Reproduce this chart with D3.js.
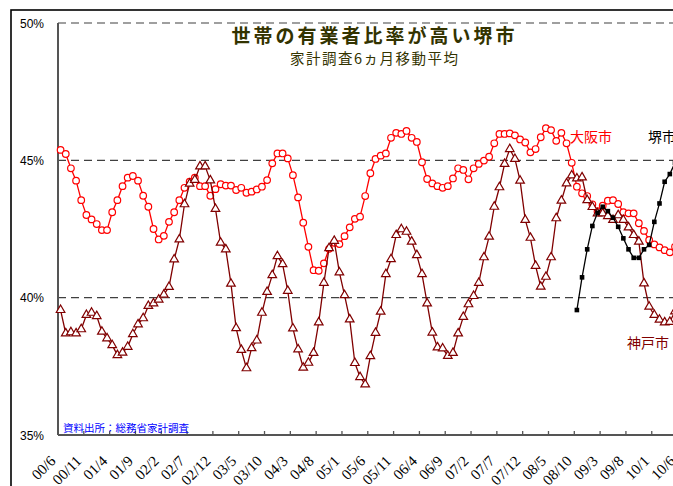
<!DOCTYPE html>
<html>
<head>
<meta charset="utf-8">
<script src="https://cdn.jsdelivr.net/npm/d3@7"></script>
<style>
  html, body { margin: 0; padding: 0; background: #fff; overflow: hidden; }
  svg { display: block; }
</style>
</head>
<body>
<div id="chart"></div>
<script>
// Monthly categories, June 2000 onward (6-month moving averages, %)
const startYear = 2000, startMonth = 6, monthCount = 121;

const osaka = [
  45.38, 45.23, 44.71, 44.26, 43.55, 43.01, 42.85, 42.68, 42.46, 42.46,
  43.11, 43.55, 44.06, 44.37, 44.43, 44.26, 43.71, 43.31, 42.50, 42.12,
  42.25, 42.76, 43.11, 43.55, 44.00, 44.22, 44.37, 44.06, 44.06, 43.71,
  43.95, 44.13, 44.08, 44.08, 43.92, 44.00, 43.82, 43.86, 43.94, 44.04,
  44.28, 44.89, 45.25, 45.25, 45.07, 44.46, 43.65, 42.73, 41.85, 41.00,
  40.98, 41.25, 41.78, 42.00, 41.95, 42.24, 42.56, 42.87, 42.95, 43.70,
  44.53, 45.05, 45.17, 45.25, 45.82, 46.00, 45.96, 46.07, 45.82, 45.67,
  44.93, 44.32, 44.16, 44.06, 44.00, 44.06, 44.34, 44.71, 44.65, 44.31,
  44.71, 44.87, 44.99, 45.13, 45.62, 45.96, 45.96, 45.98, 45.91, 45.76,
  45.65, 45.29, 45.41, 45.84, 46.17, 46.10, 45.71, 46.00, 45.62, 44.91,
  44.04, 43.80, 43.70, 43.40, 43.15, 43.35, 43.53, 43.55, 43.41, 43.11,
  43.07, 43.07, 42.71, 42.43, 42.10, 41.94, 41.83, 41.73, 41.65, 41.85,
  42.00
];

const kobe = [
  39.55, 38.70, 38.74, 38.70, 38.85, 39.37, 39.45, 39.33, 38.76, 38.52,
  38.27, 37.91, 38.00, 38.21, 38.67, 39.03, 39.25, 39.70, 39.79, 39.93,
  40.11, 40.39, 41.39, 42.12, 43.40, 44.15, 44.29, 44.78, 44.78, 44.27,
  43.23, 42.00, 41.76, 40.51, 38.89, 38.10, 37.43, 38.16, 38.44, 39.45,
  40.21, 40.82, 41.51, 41.22, 40.25, 38.88, 38.12, 37.45, 37.63, 37.99,
  39.10, 40.54, 41.80, 42.07, 40.92, 40.09, 39.21, 37.62, 37.11, 36.84,
  37.87, 38.72, 39.49, 40.86, 41.40, 42.28, 42.49, 42.40, 42.04, 41.55,
  40.86, 39.79, 38.73, 38.19, 38.15, 37.88, 37.99, 38.70, 39.30, 39.76,
  40.06, 40.54, 41.47, 42.22, 43.31, 44.02, 44.87, 45.41, 45.05, 44.26,
  42.83, 42.18, 41.16, 40.40, 40.76, 41.47, 42.89, 43.53, 44.16, 44.45,
  44.34, 44.38, 43.55, 43.30, 43.07, 43.07, 42.97, 42.83, 43.00, 42.83,
  42.56, 42.28, 42.04, 40.52, 39.67, 39.37, 39.20, 39.10, 39.12, 39.50,
  40.03
];

// Sakai series begins in October 2008 (category index 100)
const sakaiStart = 100;
const sakai = [
  39.55, 40.74, 41.76, 42.61, 43.09, 43.31, 43.15, 42.91, 42.58, 42.16,
  41.76, 41.45, 41.45, 41.76, 41.92, 42.76, 43.43, 44.22, 44.50, 44.91,
  45.30
];

const yTicks = [35, 40, 45, 50];
const tickEvery = 5;

const seriesNames = { osaka: "大阪市", kobe: "神戸市", sakai: "堺市" };
const titleText = "世帯の有業者比率が高い堺市";
const subtitleText = "家計調査6ヵ月移動平均";
const sourceText = "資料出所：総務省家計調査";

// category labels "YY/M"
const months = d3.range(monthCount).map(i => {
  const m0 = startMonth - 1 + i;
  const y = (startYear + Math.floor(m0 / 12)) % 100;
  const m = (m0 % 12) + 1;
  return String(y).padStart(2, "0") + "/" + m;
});

const W = 720, H = 520;
const svg = d3.select("#chart").append("svg")
  .attr("width", W).attr("height", H);

// outer chart frame
svg.append("rect")
  .attr("x", 11).attr("y", 10)
  .attr("width", W).attr("height", H)
  .attr("fill", "#fff").attr("stroke", "#000").attr("stroke-width", 1.6);

const plotLeft = 58, plotTop = 23, plotBottom = 435;
const step = 5.163;

const x = d3.scaleBand()
  .domain(months)
  .range([plotLeft, plotLeft + months.length * step])
  .paddingInner(0).paddingOuter(0);
const cx = i => x(months[i]) + x.bandwidth() / 2;

const y = d3.scaleLinear().domain([35, 50]).range([plotBottom, plotTop]);

// dashed gridlines
svg.append("g").selectAll("line")
  .data(yTicks.filter(v => v > 35))
  .join("line")
  .attr("x1", plotLeft).attr("x2", W)
  .attr("y1", d => y(d)).attr("y2", d => y(d))
  .attr("stroke", d => d === 50 ? "#808080" : "#404040")
  .attr("stroke-width", d => d === 50 ? 1.6 : 1.2)
  .attr("stroke-dasharray", "8,5");

// y axis labels
svg.append("g").selectAll("text")
  .data(yTicks)
  .join("text")
  .attr("x", 44)
  .attr("y", d => y(d) + 4.5)
  .attr("text-anchor", "end")
  .attr("font-family", "Liberation Sans, Arial, sans-serif")
  .attr("font-size", 12)
  .attr("fill", "#000")
  .text(d => d + "%");

// axis lines
svg.append("line")
  .attr("x1", plotLeft).attr("x2", plotLeft)
  .attr("y1", plotTop).attr("y2", plotBottom)
  .attr("stroke", "#555").attr("stroke-width", 2);

const xAxis = d3.axisBottom(x)
  .tickValues(months.filter((d, i) => i % tickEvery === 0))
  .tickSize(0).tickFormat("");
const gx = svg.append("g").attr("transform", `translate(0,${plotBottom})`).call(xAxis);
gx.select(".domain").remove();
gx.append("line")
  .attr("x1", plotLeft).attr("x2", W).attr("y1", 0).attr("y2", 0)
  .attr("stroke", "#555").attr("stroke-width", 2);

// tick marks at category boundaries, every 5 months
const tickIdx = d3.range(0, months.length, tickEvery);
gx.append("g").selectAll("line")
  .data(tickIdx)
  .join("line")
  .attr("x1", i => x(months[i])).attr("x2", i => x(months[i]))
  .attr("y1", -4).attr("y2", 0)
  .attr("stroke", "#555").attr("stroke-width", 1.3);

// rotated month labels
svg.append("g").selectAll("text")
  .data(tickIdx)
  .join("text")
  .attr("transform", i => `translate(${cx(i) - 4},${plotBottom + 27}) rotate(-45)`)
  .attr("text-anchor", "end")
  .attr("font-family", "Liberation Serif, Times New Roman, serif")
  .attr("font-size", 15)
  .attr("fill", "#000")
  .text(i => months[i]);

// series lines and markers
const line = d3.line().x(d => cx(d.i)).y(d => y(d.v));
const toPts = (arr, offset = 0) => arr.map((v, k) => ({ i: k + offset, v }));

const osakaPts = toPts(osaka);
const kobePts = toPts(kobe);
const sakaiPts = toPts(sakai, sakaiStart);

// Osaka: red, open circles
svg.append("path").datum(osakaPts).attr("d", line)
  .attr("fill", "none").attr("stroke", "#ff0000").attr("stroke-width", 1.3);
svg.append("g").selectAll("circle").data(osakaPts).join("circle")
  .attr("cx", d => cx(d.i)).attr("cy", d => y(d.v)).attr("r", 3.3)
  .attr("fill", "#fff").attr("stroke", "#ff0000").attr("stroke-width", 1.2);

// Kobe: dark red, open triangles
svg.append("path").datum(kobePts).attr("d", line)
  .attr("fill", "none").attr("stroke", "#800000").attr("stroke-width", 1.3);
const tri = d3.symbol().type(d3.symbolTriangle).size(32);
svg.append("g").selectAll("path").data(kobePts).join("path")
  .attr("d", tri)
  .attr("transform", d => `translate(${cx(d.i)},${y(d.v)})`)
  .attr("fill", "#fff").attr("stroke", "#800000").attr("stroke-width", 1.2);

// Sakai: black, filled squares
svg.append("path").datum(sakaiPts).attr("d", line)
  .attr("fill", "none").attr("stroke", "#000").attr("stroke-width", 1.3);
svg.append("g").selectAll("rect").data(sakaiPts).join("rect")
  .attr("x", d => cx(d.i) - 2.3).attr("y", d => y(d.v) - 2.3)
  .attr("width", 4.6).attr("height", 4.6).attr("fill", "#000");

// series labels
const labelFont = "Noto Sans CJK JP, sans-serif";
svg.append("text").attr("x", 570).attr("y", 142)
  .attr("font-family", labelFont).attr("font-size", 14).attr("fill", "#ff0000")
  .text(seriesNames.osaka);
svg.append("text").attr("x", 648).attr("y", 142)
  .attr("font-family", labelFont).attr("font-size", 14).attr("fill", "#000")
  .text(seriesNames.sakai);
svg.append("text").attr("x", 627).attr("y", 348)
  .attr("font-family", labelFont).attr("font-size", 14).attr("fill", "#800000")
  .text(seriesNames.kobe);

// titles
svg.append("text").attr("x", 373).attr("y", 43)
  .attr("text-anchor", "middle")
  .attr("font-family", labelFont).attr("font-weight", "bold")
  .attr("font-size", 19).attr("fill", "#333300")
  .attr("textLength", 283).attr("lengthAdjust", "spacing")
  .text(titleText);
svg.append("text").attr("x", 374).attr("y", 64)
  .attr("text-anchor", "middle")
  .attr("font-family", labelFont)
  .attr("font-size", 14.5).attr("fill", "#333300")
  .attr("textLength", 168).attr("lengthAdjust", "spacing")
  .text(subtitleText);

// source note
svg.append("text").attr("x", 63).attr("y", 432)
  .attr("font-family", labelFont)
  .attr("font-size", 10.5).attr("fill", "#0000ff")
  .text(sourceText);
</script>
</body>
</html>
